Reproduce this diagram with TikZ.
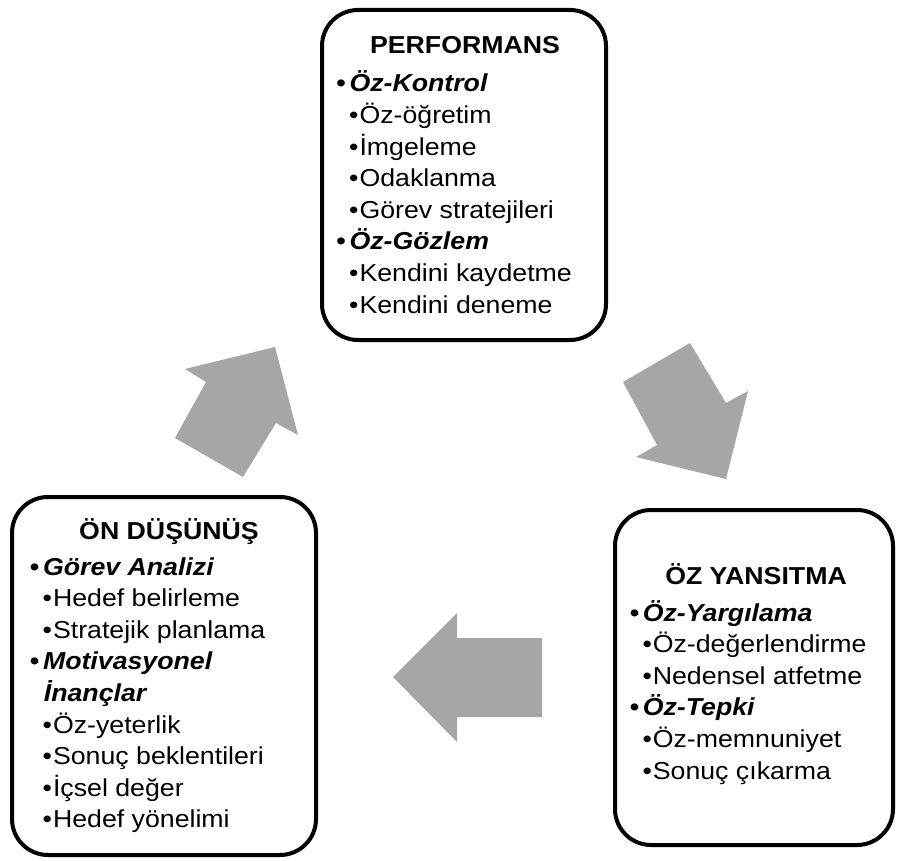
\documentclass[tikz,border=0pt]{standalone}
\usepackage{fontspec}
\setmainfont{Liberation Sans}[FakeStretch=1.09]
\usetikzlibrary{positioning}

\definecolor{arrowgray}{RGB}{166,166,166}
\newcommand\phasefont{\fontsize{24.5}{28}\selectfont}

\tikzset{
  phasebox/.style={draw, line width=4pt, rounded corners=36pt, inner sep=0pt},
  phasetitle/.style={anchor=base, inner sep=0pt, font=\phasefont\bfseries},
  lvl1/.style={anchor=base west, inner sep=0pt, font=\phasefont\bfseries\itshape,
    execute at begin node={\textbullet\hspace{4pt}}},
  lvl2/.style={anchor=base west, inner sep=0pt, xshift=13pt, font=\phasefont,
    execute at begin node={\textbullet\hspace{1pt}}},
  lvl3/.style={anchor=base west, inner sep=0pt, xshift=14.2pt, font=\phasefont\bfseries\itshape},
  cyclearrow/.style={fill=arrowgray, draw=none}
}

\begin{document}
\begin{tikzpicture}[x=1pt, y=-1pt]
\useasboundingbox (0,0) rectangle (897,861);

% the three phases
\node[phasebox, minimum width=284pt, minimum height=330pt] (perf) at (464,175) {};
\node[phasebox, minimum width=304pt, minimum height=358pt] (forethought) at (164,676) {};
\node[phasebox, minimum width=278pt, minimum height=335pt] (reflect) at (754,677.5) {};

\node[phasetitle] (perf-title) at (465,53.5) {PERFORMANS};
\node[phasetitle] (forethought-title) at (169,539) {ÖN DÜŞÜNÜŞ};
\node[phasetitle] (reflect-title) at (756,584) {ÖZ YANSITMA};

\foreach \lvl/\txt [count=\i] in {1/Öz-Kontrol, 2/Öz-öğretim, 2/İmgeleme,
    2/Odaklanma, 2/Görev stratejileri, 1/Öz-Gözlem, 2/Kendini kaydetme,
    2/Kendini deneme}
  \node[lvl\lvl] (perf-\i) at (336,{92+31.6*(\i-1)}) {\txt};

\foreach \lvl/\txt [count=\i] in {1/Görev Analizi, 2/Hedef belirleme,
    2/Stratejik planlama, 1/Motivasyonel, 3/İnançlar, 2/Öz-yeterlik,
    2/Sonuç beklentileri, 2/İçsel değer, 2/Hedef yönelimi}
  \node[lvl\lvl] (forethought-\i) at (29.5,{575+31.6*(\i-1)}) {\txt};

\foreach \lvl/\txt [count=\i] in {1/Öz-Yargılama, 2/Öz-değerlendirme,
    2/Nedensel atfetme, 1/Öz-Tepki, 2/Öz-memnuniyet, 2/Sonuç çıkarma}
  \node[lvl\lvl, lvl2/.append style={xshift=-1pt}] (reflect-\i) at (629.3,{621+31.6*(\i-1)}) {\txt};

% cycle arrows
\fill[cyclearrow] (175,438) -- (206,382) -- (185,369) -- (275,347) -- (298,435) -- (276,423) -- (243,477) -- cycle;
\fill[cyclearrow] (623,382) -- (690,343) -- (726,403) -- (748,391) -- (726,479) -- (636,457) -- (657,445) -- cycle;
\fill[cyclearrow] (542,638) -- (457,638) -- (457,613) -- (393,677) -- (457,742) -- (457,717) -- (542,717) -- cycle;
\end{tikzpicture}
\end{document}
